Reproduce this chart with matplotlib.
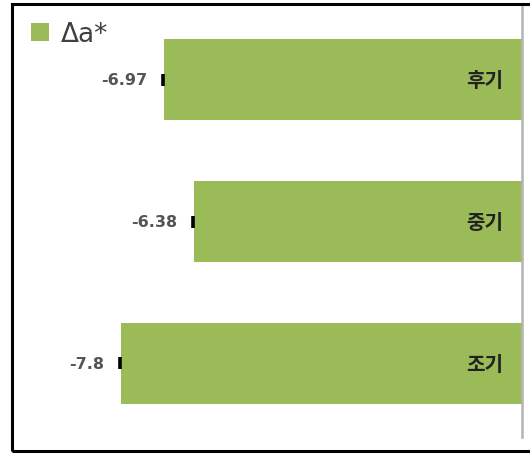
import matplotlib
matplotlib.use("Agg")
import matplotlib.pyplot as plt
from matplotlib.patches import Rectangle

plt.rcParams['font.family'] = ['Noto Sans CJK KR', 'DejaVu Sans']

# Data
categories = ["조기", "중기", "후기"]
delta_a = [-7.8, -6.38, -6.97]
series_name = "Δa*"

BAR_COLOR = "#9BBB59"

W, H, DPI = 530, 456, 100
fig = plt.figure(figsize=(W / DPI, H / DPI), dpi=DPI)
fig.patch.set_facecolor("white")

# Axes placed in pixel terms
left_px, right_px, top_px, bottom_px = 12, 522, 8, 438
ax = fig.add_axes([left_px / W, (H - bottom_px) / H,
                   (right_px - left_px) / W, (bottom_px - top_px) / H])

ypos = list(range(len(categories)))
bars = ax.barh(ypos, delta_a, height=0.57, color=BAR_COLOR, label=series_name, zorder=2)

# small end marks at each bar tip
ax.plot([v - 0.02 for v in delta_a], ypos, linestyle="none", marker="|",
        markersize=9, markeredgewidth=2.6, color="black", zorder=3)

# value labels to the left of each bar
for y, v in zip(ypos, delta_a):
    ax.text(v - 0.33, y, f"{v:g}", ha="right", va="center",
            fontsize=11.5, color="#555555", fontweight="semibold",
            family=["DejaVu Sans"])

# category labels inside the bars, near the zero line
for y, c in zip(ypos, categories):
    ax.text(-0.37, y, c, ha="right", va="center", fontsize=14.5,
            fontweight="bold", color="#222222")

ax.set_xlim(-9.93, 0)
ax.set_ylim(-0.518, 2.511)
ax.set_xticks([])
ax.set_yticks([])
for s in ["left", "top", "bottom"]:
    ax.spines[s].set_visible(False)
ax.spines["right"].set_color("#b4b4b4")
ax.spines["right"].set_linewidth(1.8)
ax.patch.set_alpha(0)

# legend in the upper left
fig.legend(handles=[bars], labels=[series_name], loc="upper left",
           bbox_to_anchor=(18 / W, 1 - 9 / H), frameon=False,
           handlelength=0.68, handleheight=0.68,
           handletextpad=0.45, borderpad=0, labelcolor="#404040",
           prop={"family": ["DejaVu Sans"], "size": 19})

# outer frame
fig.patches.append(Rectangle((12 / W, (H - 452) / H), (560 - 12) / W, (452 - 5) / H,
                             transform=fig.transFigure, fill=False,
                             edgecolor="black", linewidth=2.2, zorder=10))

fig.savefig("out.png", dpi=DPI)
